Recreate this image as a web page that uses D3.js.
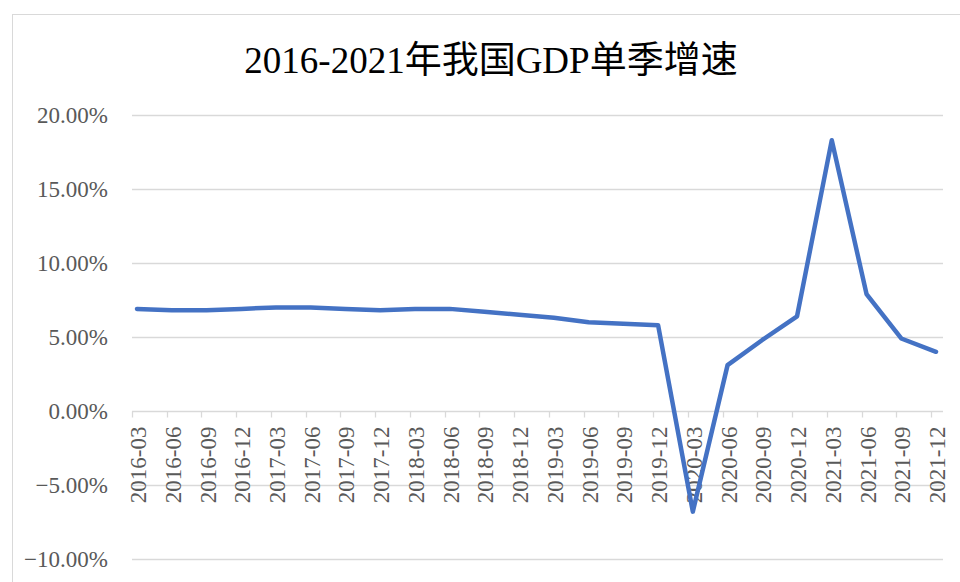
<!DOCTYPE html>
<html>
<head>
<meta charset="utf-8">
<script src="https://cdn.jsdelivr.net/npm/d3@7"></script>
<style>
  body { margin: 0; background: #fff; }
</style>
</head>
<body>
<div id="my_linedataviz"></div>
<script>
// quarters and single-quarter GDP growth (%)
const quarters = ["2016-03","2016-06","2016-09","2016-12","2017-03","2017-06","2017-09","2017-12",
  "2018-03","2018-06","2018-09","2018-12","2019-03","2019-06","2019-09","2019-12",
  "2020-03","2020-06","2020-09","2020-12","2021-03","2021-06","2021-09","2021-12"];
const growth = [6.9, 6.8, 6.8, 6.9, 7.0, 7.0, 6.9, 6.8,
  6.9, 6.9, 6.7, 6.5, 6.3, 6.0, 5.9, 5.8,
  -6.8, 3.1, 4.8, 6.4, 18.3, 7.9, 4.9, 4.0];
const yTicks = [-10, -5, 0, 5, 10, 15, 20];
const chartTitle = "2016-2021年我国GDP单季增速";

const width = 960, height = 582;
const serif = "'Liberation Serif', 'Times New Roman', 'Noto Sans CJK SC', serif";

const svg = d3.select("#my_linedataviz")
  .append("svg")
  .attr("width", width)
  .attr("height", height);

// chart area border
svg.append("rect")
  .attr("x", 12.5).attr("y", 14.5)
  .attr("width", 960).attr("height", 600)
  .attr("fill", "#fff")
  .attr("stroke", "#d9d9d9");

svg.append("text")
  .attr("x", 491).attr("y", 73)
  .attr("text-anchor", "middle")
  .style("font-family", serif)
  .style("font-size", "37px")
  .attr("fill", "#000")
  .text(chartTitle);

// scales
const x = d3.scalePoint().domain(quarters).range([137, 936]);
const y = d3.scaleLinear().domain([-10, 20]).range([559, 115]);
const gridLeft = 132, gridRight = 943;

// gridlines
svg.append("g")
  .selectAll("line")
  .data(yTicks.filter(d => d !== 0))
  .enter()
  .append("line")
  .attr("x1", gridLeft).attr("x2", gridRight)
  .attr("y1", d => Math.round(y(d)) + 0.5)
  .attr("y2", d => Math.round(y(d)) + 0.5)
  .attr("stroke", "#d9d9d9")
  .attr("stroke-width", 1.3);

// y labels
svg.append("g")
  .selectAll("text")
  .data(yTicks)
  .enter()
  .append("text")
  .attr("x", 108)
  .attr("y", d => y(d))
  .attr("dy", "0.35em")
  .attr("text-anchor", "end")
  .style("font-family", serif)
  .style("font-size", "23px")
  .attr("fill", "#595959")
  .text(d => d3.format(".2f")(d) + "%");

// category axis at 0
const y0 = Math.round(y(0)) + 0.5;
svg.append("line")
  .attr("x1", gridLeft).attr("x2", gridRight)
  .attr("y1", y0).attr("y2", y0)
  .attr("stroke", "#d9d9d9")
  .attr("stroke-width", 1.3);

svg.append("g")
  .selectAll("line")
  .data(quarters)
  .enter()
  .append("line")
  .attr("x1", d => Math.round(x(d) - 5) + 0.5)
  .attr("x2", d => Math.round(x(d) - 5) + 0.5)
  .attr("y1", y0).attr("y2", y0 + 6)
  .attr("stroke", "#d9d9d9")
  .attr("stroke-width", 1.3);

svg.append("g")
  .selectAll("text")
  .data(quarters)
  .enter()
  .append("text")
  .attr("transform", d => "translate(" + (x(d) + 1) + "," + (y0 + 15) + ") rotate(-90)")
  .attr("dy", "0.35em")
  .attr("text-anchor", "end")
  .style("font-family", serif)
  .style("font-size", "23px")
  .attr("fill", "#595959")
  .text(d => d);

// growth line
svg.append("path")
  .datum(growth)
  .attr("fill", "none")
  .attr("stroke", "#4472c4")
  .attr("stroke-width", 4.5)
  .attr("stroke-linejoin", "round")
  .attr("stroke-linecap", "round")
  .attr("d", d3.line()
    .x((d, i) => x(quarters[i]))
    .y(d => y(d)));
</script>
</body>
</html>
